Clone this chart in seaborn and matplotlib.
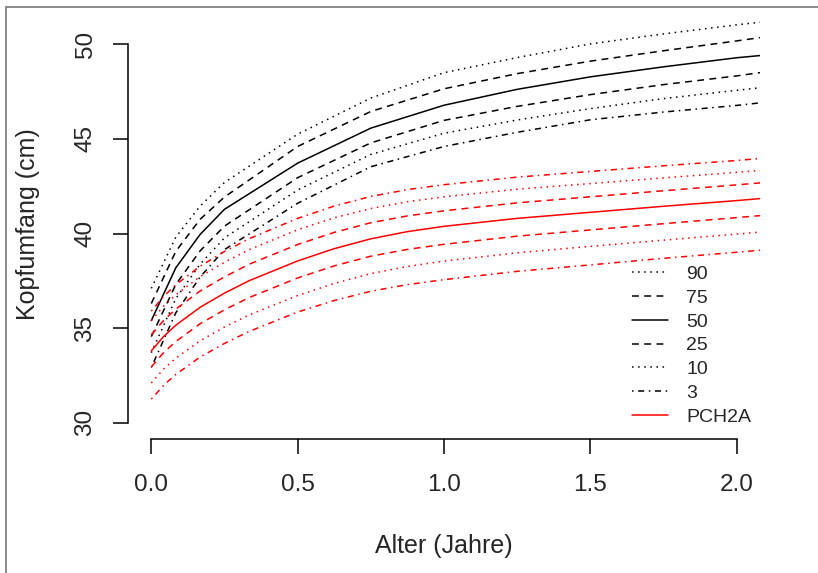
import matplotlib
matplotlib.use('Agg')
import matplotlib.pyplot as plt
import seaborn as sns
from matplotlib.lines import Line2D
from matplotlib.patches import Rectangle


# reference percentiles (black), age in years
ref_age = [0, 1/12, 2/12, 3/12, 0.5, 0.75, 1.0, 1.25, 1.5, 1.75, 2.0, 2.083]
ref_p90 = [37.1, 39.8, 41.45, 42.7, 45.25, 47.16, 48.5, 49.3, 50.02, 50.55, 51.03, 51.17]
ref_p75 = [36.3, 39.05, 40.75, 41.93, 44.6, 46.45, 47.65, 48.45, 49.11, 49.66, 50.18, 50.36]
ref_p50 = [35.4, 38.18, 39.95, 41.28, 43.72, 45.57, 46.78, 47.62, 48.28, 48.81, 49.29, 49.41]
ref_p25 = [34.55, 37.3, 39.08, 40.39, 42.95, 44.79, 45.98, 46.72, 47.34, 47.87, 48.33, 48.51]
ref_p10 = [33.7, 36.55, 38.38, 39.77, 42.3, 44.18, 45.3, 46.0, 46.6, 47.13, 47.57, 47.71]
ref_p3 = [32.92, 35.8, 37.7, 39.15, 41.6, 43.53, 44.6, 45.35, 46.01, 46.42, 46.77, 46.91]

# PCH2A percentiles (red)
pch_age = [0, 1/24, 1/12, 2/12, 0.25, 1/3, 0.5, 0.625, 0.75, 0.875, 1.0, 1.25, 1.5, 1.75, 2.0, 2.083]
pch_p97 = [35.9, 36.67, 37.29, 38.27, 39.05, 39.72, 40.8, 41.45, 41.96, 42.32, 42.58, 42.98, 43.28, 43.58, 43.86, 43.97]
pch_p90 = [35.4, 36.15, 36.76, 37.72, 38.48, 39.14, 40.2, 40.83, 41.32, 41.68, 41.94, 42.34, 42.64, 42.94, 43.23, 43.34]
pch_p75 = [34.65, 35.4, 36.0, 36.96, 37.71, 38.37, 39.42, 40.06, 40.57, 40.93, 41.2, 41.62, 41.94, 42.26, 42.57, 42.68]
pch_p50 = [33.8, 34.55, 35.15, 36.1, 36.85, 37.5, 38.55, 39.2, 39.72, 40.1, 40.38, 40.8, 41.12, 41.44, 41.74, 41.85]
pch_p25 = [32.95, 33.7, 34.29, 35.23, 35.97, 36.61, 37.65, 38.29, 38.8, 39.16, 39.43, 39.86, 40.19, 40.52, 40.84, 40.95]
pch_p10 = [32.1, 32.83, 33.41, 34.33, 35.06, 35.69, 36.72, 37.36, 37.88, 38.26, 38.54, 38.98, 39.32, 39.65, 39.97, 40.08]
pch_p3 = [31.25, 31.97, 32.55, 33.47, 34.19, 34.82, 35.85, 36.46, 36.95, 37.3, 37.56, 38.0, 38.34, 38.69, 39.01, 39.12]

x_ticks = [0.0, 0.5, 1.0, 1.5, 2.0]
x_ticklabels = ['0.0', '0.5', '1.0', '1.5', '2.0']
y_ticks = [30, 35, 40, 45, 50]
y_ticklabels = ['30', '35', '40', '45', '50']
legend_labels = ['90', '75', '50', '25', '10', '3', 'PCH2A']

sns.set_theme(style='white')
plt.rcParams['font.family'] = ['Liberation Sans', 'DejaVu Sans']

# R-like line types
DOT = (0, (1, 3))
DASH = (0, (4.5, 3.5))
DASHDOT = (0, (1, 3, 4, 3))
SOLID = '-'
LW = 1.1

fig = plt.figure(figsize=(8.18, 5.73), dpi=100)
ax = fig.add_axes([0.15636, 0.23455, 0.77286, 0.74887])

black = [(ref_p90, DOT), (ref_p75, DASH), (ref_p50, SOLID),
         (ref_p25, DASH), (ref_p10, DOT), (ref_p3, DASHDOT)]
for vals, ls in black:
    sns.lineplot(x=ref_age, y=vals, ax=ax, color='black', linestyle=ls, linewidth=LW)

red = [(pch_p97, DASHDOT), (pch_p90, DOT), (pch_p75, DASH), (pch_p50, SOLID),
       (pch_p25, DASH), (pch_p10, DOT), (pch_p3, DASHDOT)]
for vals, ls in red:
    sns.lineplot(x=pch_age, y=vals, ax=ax, color='red', linestyle=ls, linewidth=LW)

ax.set_xlim(-0.08, 2.08)
ax.set_ylim(29.16, 51.84)

# axes like base R: no box, axis lines only between outer ticks
for s in ['top', 'right']:
    ax.spines[s].set_visible(False)
for s in ['left', 'bottom']:
    ax.spines[s].set_color('black')
    ax.spines[s].set_linewidth(LW)
ax.spines['bottom'].set_bounds(0, 2)
ax.spines['left'].set_bounds(30, 50)

ax.set_xticks(x_ticks, x_ticklabels, fontsize=17.5)
ax.set_yticks(y_ticks, y_ticklabels, fontsize=17.5, rotation=90, va='center')
ax.tick_params(axis='x', direction='out', length=10.8, width=LW, color='black', pad=15, bottom=True)
ax.tick_params(axis='y', direction='out', length=10.6, width=LW, color='black', pad=12, left=True)
ax.grid(False)

ax.set_xlabel('Alter (Jahre)', fontsize=18, labelpad=27)
ax.set_ylabel('Kopfumfang (cm)', fontsize=18, labelpad=25)

# legend without frame, bottom right
handles = [
    Line2D([], [], color='black', linestyle=DOT, linewidth=LW),
    Line2D([], [], color='black', linestyle=DASH, linewidth=LW),
    Line2D([], [], color='black', linestyle=SOLID, linewidth=LW),
    Line2D([], [], color='black', linestyle=DASH, linewidth=LW),
    Line2D([], [], color='black', linestyle=DOT, linewidth=LW),
    Line2D([], [], color='black', linestyle=DASHDOT, linewidth=LW),
    Line2D([], [], color='red', linestyle=SOLID, linewidth=LW),
]
ax.legend(handles, legend_labels, loc='upper left', bbox_to_anchor=(0.797, 0.404),
          frameon=False, fontsize=14, handlelength=1.85, handletextpad=0.94,
          labelspacing=0.32, borderpad=0, borderaxespad=0)

# thin grey frame of the original device
fig.add_artist(Rectangle((5.7 / 818, -0.05), 1.1, 1 - 6.7 / 573 + 0.05,
                         transform=fig.transFigure, fill=False,
                         edgecolor='#777777', linewidth=1.2, clip_on=False))

fig.savefig('out.png', dpi=100)
